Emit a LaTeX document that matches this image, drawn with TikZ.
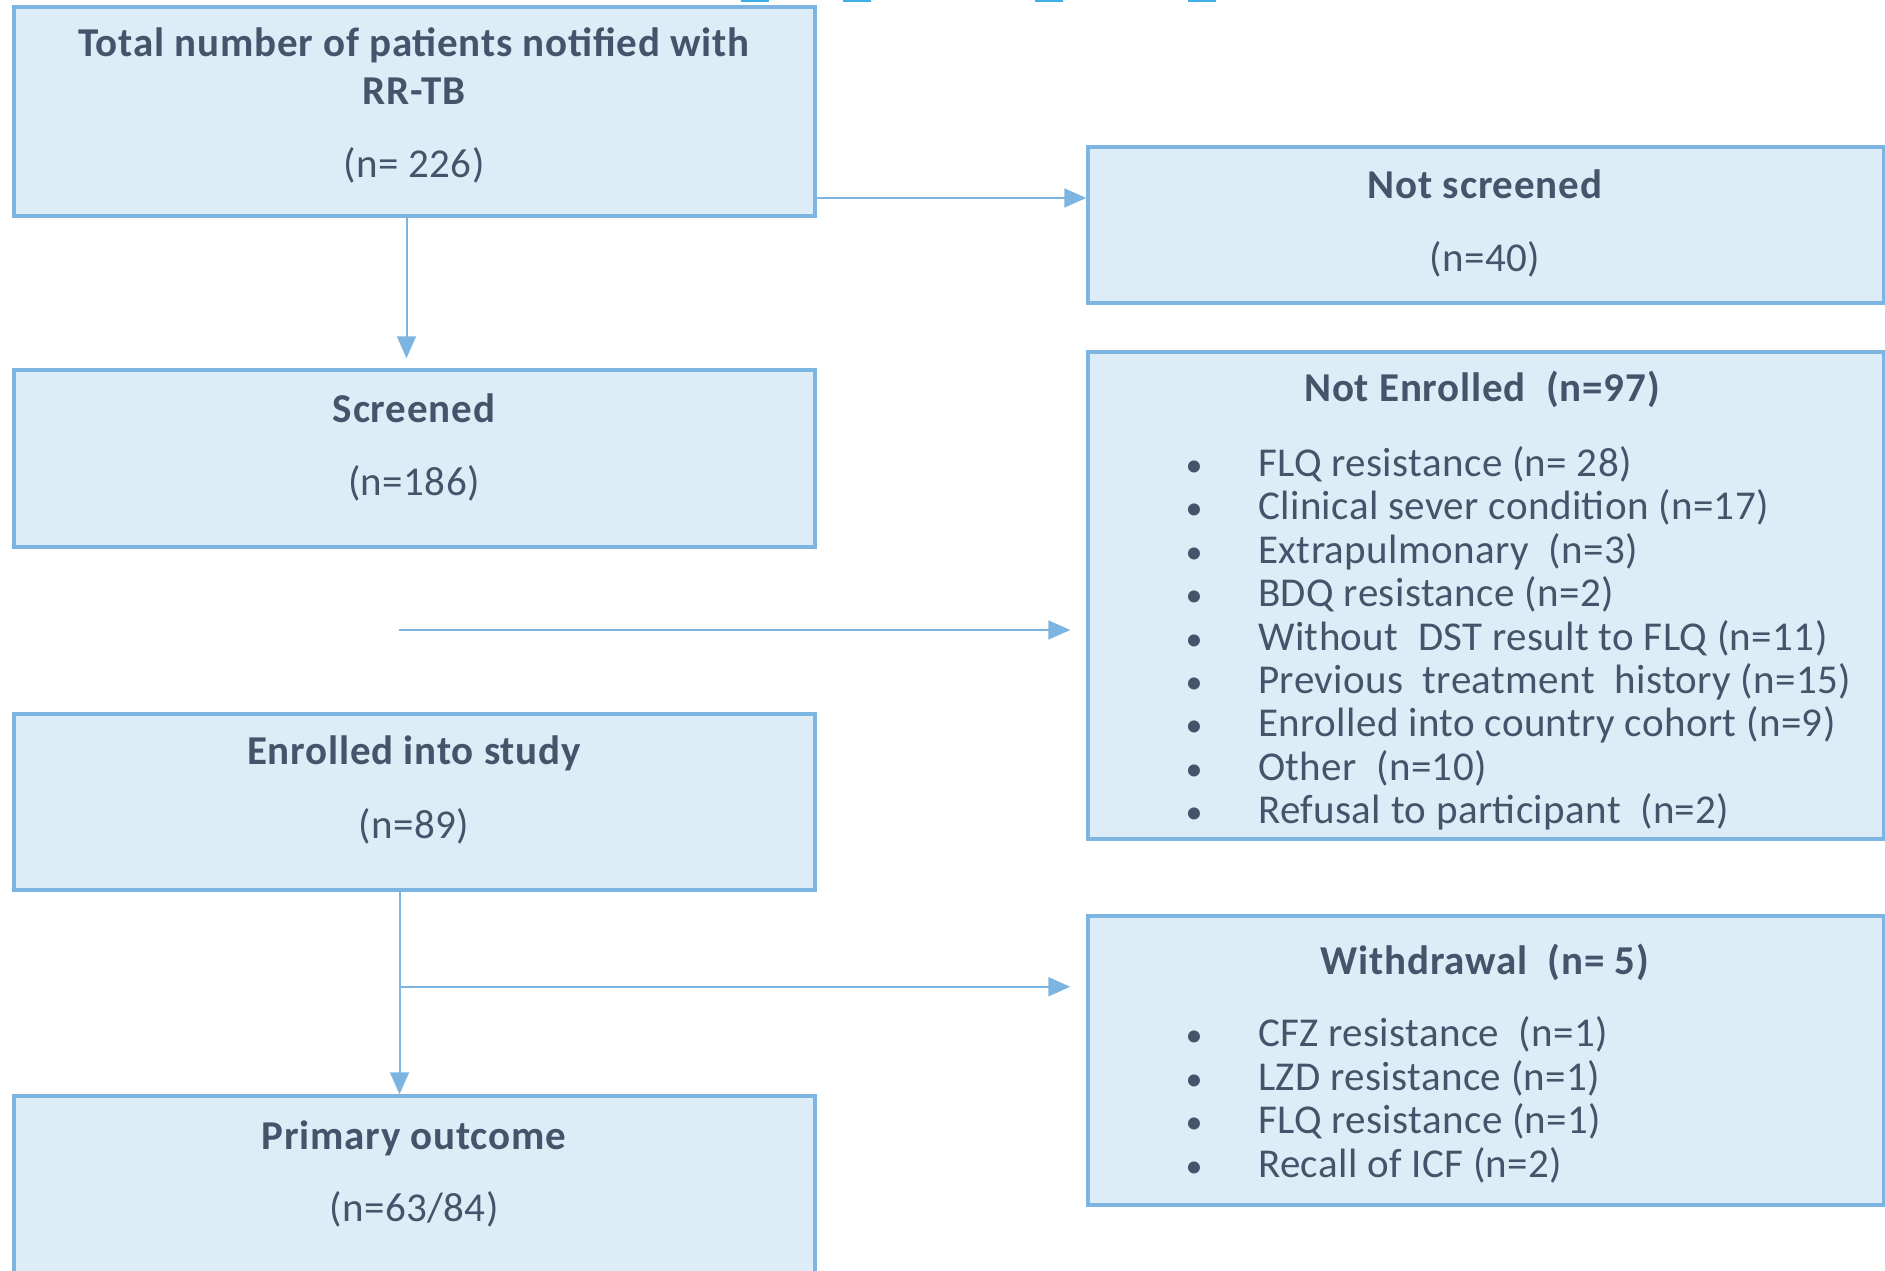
\documentclass[tikz,border=0pt]{standalone}
\usepackage{fontspec}
\setmainfont{Carlito}
\usetikzlibrary{arrows.meta}
\usetikzlibrary{calc}
\usetikzlibrary{fit}
\definecolor{boxFill}{HTML}{DDEDF8}
\definecolor{boxLine}{HTML}{7DB5E2}
\definecolor{textGrey}{HTML}{44546A}
\definecolor{linkBlue}{HTML}{3DB0E8}
\newcommand{\drawBox}[3]{
	\node[flowBox, fit=(#1)(#2)] (#3) {};
}
\newcommand{\drawList}[5]{
	\foreach \txt [count=\i] in {#5} {
		\node[bulletText] (#1_b\i) at (1194, {#2+(\i-1)*#3}) {\textbullet};
		\node[countText, anchor=west] (#1_i\i) at (#4, {#2+(\i-1)*#3}) {\txt};
	}
}
\tikzset{
	flowBox/.style={draw=boxLine, fill=boxFill, line width=3.5pt, inner sep=0pt},
	headText/.style={font=\fontsize{41}{48}\selectfont\bfseries\addfontfeatures{LetterSpace=2}, text=textGrey,
		inner sep=0pt, text height=27pt, text depth=0pt},
	countText/.style={font=\fontsize{41}{48}\selectfont\addfontfeatures{LetterSpace=1}, text=textGrey,
		inner sep=0pt, text height=27pt, text depth=0pt},
	bulletText/.style={countText, font=\fontsize{34}{44}\selectfont},
	flowArrow/.style={draw=boxLine, line width=2pt, -{Triangle[length=22pt,width=19pt]}}
}

\begin{document}
\begin{tikzpicture}[x=1pt, y=-1pt]
		\useasboundingbox (0,0) rectangle (1885,1270);
		\clip (0,0) rectangle (1885,1270);

		\coordinate (T_L) at (14,7);
		\coordinate (T_R) at (815,216);
		\coordinate (NS_L) at (1088,147);
		\coordinate (NS_R) at (1884,303);
		\coordinate (S_L) at (14,370);
		\coordinate (S_R) at (815,547);
		\coordinate (NE_L) at (1088,352);
		\coordinate (NE_R) at (1884,839);
		\coordinate (E_L) at (14,714);
		\coordinate (E_R) at (815,890);
		\coordinate (W_L) at (1088,916);
		\coordinate (W_R) at (1884,1205);
		\coordinate (P_L) at (14,1096);
		\coordinate (P_R) at (815,1300);

		% cut off link marks along the top edge
		\foreach \xa in {741, 843, 1035, 1188}
			\fill[linkBlue] (\xa,0) rectangle ++(28,2);

		\drawBox{T_L}{T_R}{total}
		\drawBox{NS_L}{NS_R}{notScreened}
		\drawBox{S_L}{S_R}{screened}
		\drawBox{NE_L}{NE_R}{notEnrolled}
		\drawBox{E_L}{E_R}{enrolled}
		\drawBox{W_L}{W_R}{withdrawal}
		\drawBox{P_L}{P_R}{primary}

		\node[headText] (totalHead1) at (414,43) {Total number of patients notified with};
		\node[headText] (totalHead2) at (414,91) {RR-TB};
		\node[countText] (totalCount) at (414,164) {(n= 226)};

		\node[headText] (notScreenedHead) at (1485,185) {Not screened};
		\node[countText] (notScreenedCount) at (1485,258) {(n=40)};

		\node[headText] (screenedHead) at (414,409) {Screened};
		\node[countText] (screenedCount) at (414,482) {(n=186)};

		\node[headText] (notEnrolledHead) at (1482,388) {Not Enrolled\ \ (n=97)};
		\drawList{notEnrolled}{463}{43.4}{1258}{FLQ resistance (n=\ 28), Clinical sever condition (n=17),
			Extrapulmonary\ \ (n=3), BDQ resistance (n=2), Without\ \ DST result to FLQ (n=11),
			Previous\ \ treatment\ \ history (n=15), Enrolled into country cohort (n=9),
			Other\ \ (n=10), Refusal to participant\ \ (n=2)}

		\node[headText] (enrolledHead) at (414,751) {Enrolled into study};
		\node[countText] (enrolledCount) at (414,825) {(n=89)};

		\node[headText] (withdrawalHead) at (1485,961) {Withdrawal\ \ (n= 5)};
		\drawList{withdrawal}{1033}{43.7}{1258}{CFZ resistance\ \ (n=1), LZD resistance (n=1),
			FLQ resistance (n=1), Recall of ICF (n=2)}

		\node[headText] (primaryHead) at (414,1136) {Primary outcome};
		\node[countText] (primaryCount) at (414,1208) {(n=63/84)};

		% connectors
		\coordinate (arrScr) at (0,198);
		\draw[flowArrow] (total.east |- arrScr) -- (notScreened.west |- arrScr);
		\draw[flowArrow, shorten >=10pt] ([xshift=-8pt]total.south) -- ([xshift=-8pt]screened.north);
		\coordinate (gapStart) at (399,630);
		\draw[flowArrow, shorten >=16pt] (gapStart) -- (gapStart -| notEnrolled.west);
		\draw[flowArrow] ([xshift=-15pt]enrolled.south) -- ([xshift=-15pt]primary.north);
		\path ([xshift=-15pt]enrolled.south) ++(0,95) coordinate (branch);
		\draw[flowArrow, shorten >=16pt] (branch) -- (branch -| withdrawal.west);
	\end{tikzpicture}
\end{document}
